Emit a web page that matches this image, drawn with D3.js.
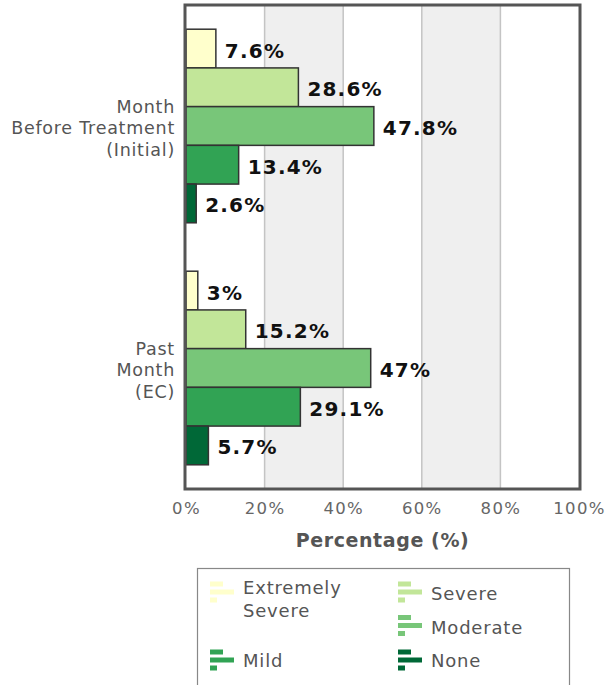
<!DOCTYPE html>
<html>
<head>
<meta charset="utf-8">
<script src="https://cdn.jsdelivr.net/npm/d3@7"></script>
<style>
  html, body { margin: 0; padding: 0; background: #fff; }
  svg { display: block; font-family: "DejaVu Sans", Verdana, sans-serif; }
</style>
</head>
<body>
<svg id="chart" width="608" height="685"></svg>
<script>
const categories = ["Month\nBefore Treatment\n(Initial)", "Past\nMonth\n(EC)"];
const series = ["Extremely Severe", "Severe", "Moderate", "Mild", "None"];
const colors = ["#ffffcc", "#c2e699", "#78c679", "#31a354", "#006837"];
const initialValues = [7.6, 28.6, 47.8, 13.4, 2.6];
const ecValues = [3, 15.2, 47, 29.1, 5.7];
const xTicks = [0, 20, 40, 60, 80, 100];
const xTitle = "Percentage (%)";

const values = [initialValues, ecValues];

const svg = d3.select("#chart");
const pLeft = 185, pRight = 580, pTop = 5, pBottom = 489;

const x = d3.scaleLinear().domain([0, 100]).range([pLeft + 1, pRight - 1]);
const y0 = d3.scaleBand().domain(d3.range(categories.length)).range([pTop, pBottom])
  .paddingInner(0.2).paddingOuter(0.1);
const y1 = d3.scaleBand().domain(d3.range(series.length)).range([0, y0.bandwidth()]);

// alternating bands
const bandPairs = [[20, 40], [60, 80]];
svg.append("g").selectAll("rect").data(bandPairs).join("rect")
  .attr("x", d => x(d[0])).attr("width", d => x(d[1]) - x(d[0]))
  .attr("y", pTop).attr("height", pBottom - pTop)
  .attr("fill", "#efefef");

// gridlines
svg.append("g").selectAll("line").data(xTicks.slice(1, -1)).join("line")
  .attr("x1", d => x(d)).attr("x2", d => x(d))
  .attr("y1", pTop).attr("y2", pBottom)
  .attr("stroke", "#c4c4c4").attr("stroke-width", 1.5);

// bars
const groups = svg.append("g").selectAll("g").data(values).join("g")
  .attr("transform", (d, i) => `translate(0,${y0(i)})`);
groups.selectAll("rect").data(d => d).join("rect")
  .attr("x", x(0))
  .attr("y", (d, j) => y1(j))
  .attr("width", d => x(d) - x(0))
  .attr("height", y1.bandwidth())
  .attr("fill", (d, j) => colors[j])
  .attr("stroke", "#333").attr("stroke-width", 1.5);
groups.selectAll("text").data(d => d).join("text")
  .attr("x", d => x(d) + 9)
  .attr("y", (d, j) => y1(j) + y1.bandwidth() / 2 + 2)
  .attr("dominant-baseline", "central")
  .attr("font-size", 20).attr("font-weight", "bold")
  .attr("letter-spacing", 1.2)
  .attr("fill", "#111")
  .text(d => d + "%");

// frame
svg.append("rect")
  .attr("x", pLeft).attr("y", pTop).attr("width", pRight - pLeft).attr("height", pBottom - pTop)
  .attr("fill", "none").attr("stroke", "#555").attr("stroke-width", 3);

// category labels
categories.forEach((c, i) => {
  const lines = c.split("\n");
  const cy = y0(i) + y0.bandwidth() / 2 + 2;
  const lh = 21.5;
  const t = svg.append("text")
    .attr("text-anchor", "end").attr("font-size", 17.5).attr("fill", "#555")
    .attr("letter-spacing", 0.75);
  lines.forEach((ln, k) => {
    t.append("tspan").attr("x", 175)
      .attr("y", cy + (k - (lines.length - 1) / 2) * lh)
      .attr("dominant-baseline", "central")
      .text(ln);
  });
});

// x axis tick labels
const xAxis = d3.axisBottom(x).tickValues(xTicks).tickFormat(d => d + "%").tickSize(0).tickPadding(0);
const ax = svg.append("g").attr("transform", `translate(0,${pBottom + 13})`).call(xAxis);
ax.select(".domain").remove();
ax.selectAll("text")
  .attr("font-family", "DejaVu Sans, Verdana, sans-serif")
  .attr("font-size", 16.5).attr("fill", "#666").attr("letter-spacing", 1.3)
  .attr("dy", "0.71em");

svg.append("text")
  .attr("x", (pLeft + pRight) / 2).attr("y", 540)
  .attr("text-anchor", "middle").attr("dominant-baseline", "central")
  .attr("font-size", 19).attr("font-weight", "bold").attr("fill", "#555")
  .attr("letter-spacing", 0.6)
  .text(xTitle);

// legend
svg.append("rect")
  .attr("x", 197.5).attr("y", 568.5).attr("width", 372).attr("height", 140)
  .attr("fill", "#fff").attr("stroke", "#888").attr("stroke-width", 1.2);

const legendItems = [
  { i: 0, ix: 210, tx: 243, lines: ["Extremely", "Severe"], cy: 599, icy: 592 },
  { i: 1, ix: 398, tx: 431, lines: ["Severe"], cy: 593, icy: 592 },
  { i: 2, ix: 398, tx: 431, lines: ["Moderate"], cy: 627, icy: 625.5 },
  { i: 3, ix: 210, tx: 243, lines: ["Mild"], cy: 660, icy: 660 },
  { i: 4, ix: 398, tx: 431, lines: ["None"], cy: 660, icy: 660 }
];
const iconBars = [[0, 13], [1, 24], [2, 7]];
legendItems.forEach(it => {
  const g = svg.append("g");
  const iy = it.icy - 10.5;
  g.selectAll("rect").data(iconBars).join("rect")
    .attr("x", it.ix).attr("y", d => iy + d[0] * 8)
    .attr("width", d => d[1]).attr("height", 5)
    .attr("fill", colors[it.i]);
  const t = g.append("text").attr("font-size", 18).attr("fill", "#555").attr("letter-spacing", 0.8);
  it.lines.forEach((ln, k) => {
    t.append("tspan").attr("x", it.tx)
      .attr("y", it.cy + (k - (it.lines.length - 1) / 2) * 23)
      .attr("dominant-baseline", "central").text(ln);
  });
});
</script>
</body>
</html>
